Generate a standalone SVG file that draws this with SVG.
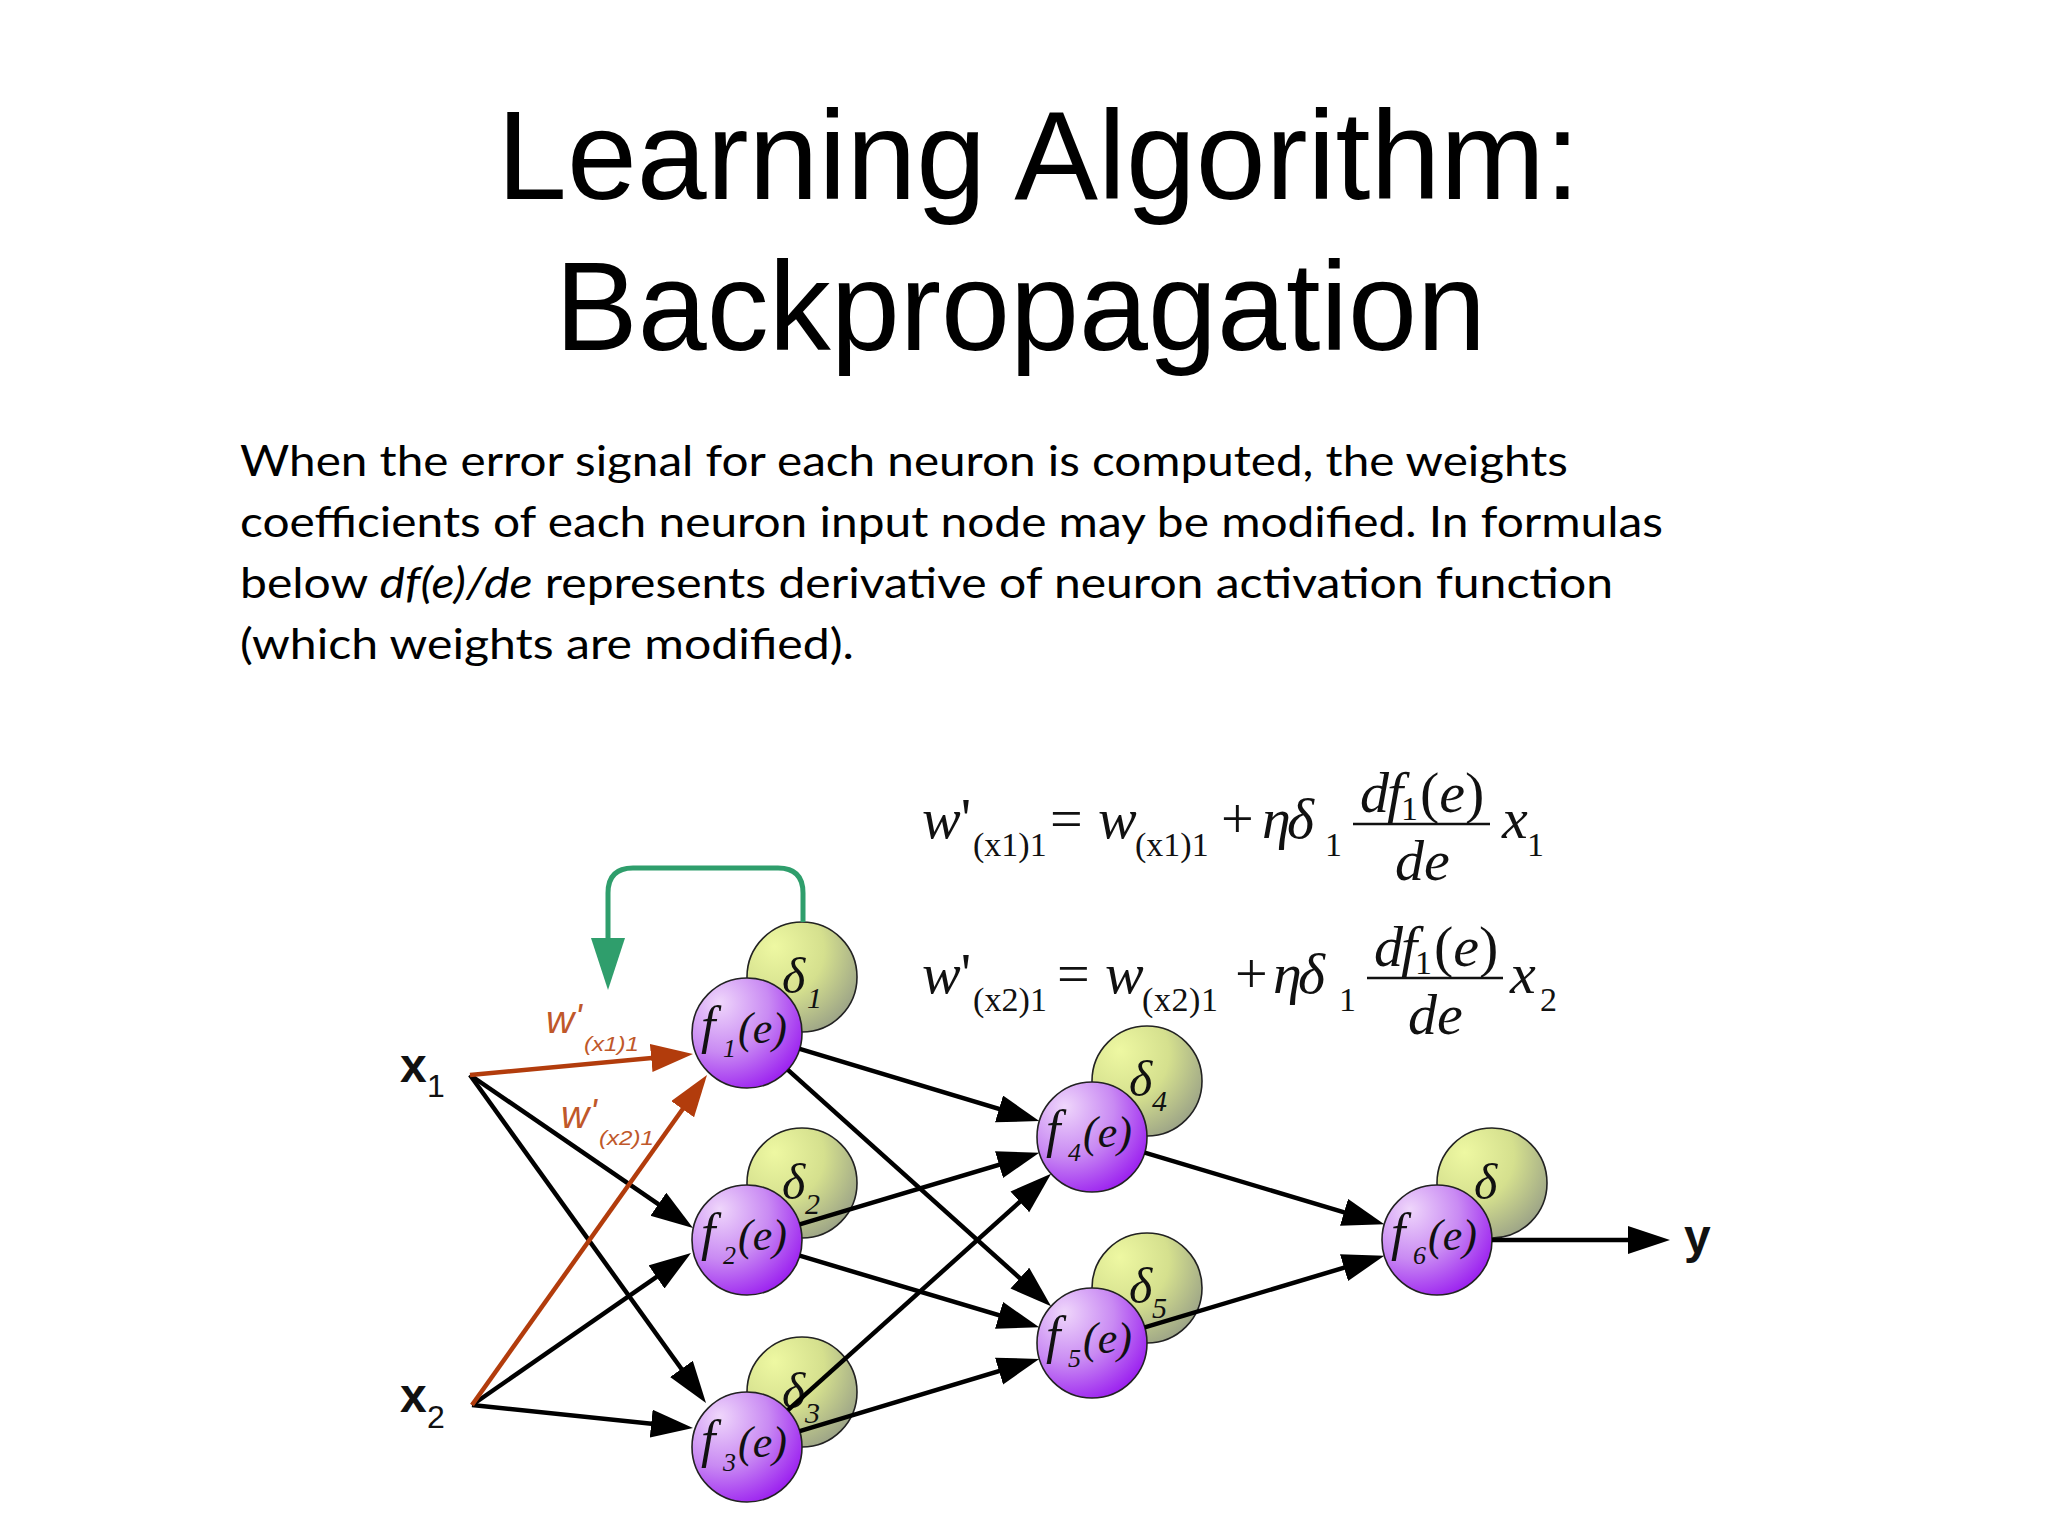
<svg xmlns="http://www.w3.org/2000/svg" width="2048" height="1536" viewBox="0 0 2048 1536">
<defs>
<style>
.title{font-family:"Liberation Sans",Arial,sans-serif;font-size:127px;fill:#000}
.body{font-family:Lato,"Open Sans",sans-serif;font-size:43px;fill:#000}
.eq{font-family:"Liberation Serif","Times New Roman",serif;font-size:58px;fill:#111}
.eqs{font-family:"Liberation Serif","Times New Roman",serif;font-size:34px;fill:#111}
.it{font-style:italic}
.fn{font-family:"Liberation Serif","Times New Roman",serif;font-style:italic;font-size:44px;fill:#111}
.ff{font-size:52px}
.fs{font-size:26px}
.dl{font-family:"Liberation Serif","Times New Roman",serif;font-style:italic;font-size:50px;fill:#111}
.ds{font-size:30px}
.inp{font-family:"Liberation Sans",Arial,sans-serif;font-weight:bold;font-size:48px;fill:#111}
.inps{font-family:"Liberation Sans",Arial,sans-serif;font-size:32px;fill:#111}
.wl{font-family:"Liberation Sans",Arial,sans-serif;font-style:italic;fill:#c0582a}
.fc{fill:url(#pg);stroke:#222;stroke-width:1.6}
.dc{fill:url(#gg);stroke:#222;stroke-width:1.6}
.ln{stroke:#000;stroke-width:4.5;fill:none;marker-end:url(#ah)}
.or{stroke:#b23c0c;stroke-width:4.5;fill:none;marker-end:url(#ao)}
</style>
<radialGradient id="pg" cx="0.3" cy="0.28" r="0.85" fx="0.25" fy="0.22">
<stop offset="0" stop-color="#efd6fb"/>
<stop offset="0.5" stop-color="#c98af3"/>
<stop offset="1" stop-color="#9512ef"/>
</radialGradient>
<radialGradient id="gg" cx="0.3" cy="0.28" r="0.85" fx="0.25" fy="0.22">
<stop offset="0" stop-color="#eef8a2"/>
<stop offset="0.5" stop-color="#d5e08e"/>
<stop offset="1" stop-color="#959c86"/>
</radialGradient>
<marker id="ah" markerUnits="userSpaceOnUse" markerWidth="44" markerHeight="30" refX="22" refY="14" orient="auto">
<path d="M0,0 L42,14 L0,28 z" fill="#000"/>
</marker>
<marker id="ao" markerUnits="userSpaceOnUse" markerWidth="44" markerHeight="30" refX="22" refY="14" orient="auto">
<path d="M0,0 L42,14 L0,28 z" fill="#b23c0c"/>
</marker>
<marker id="ag" markerUnits="userSpaceOnUse" markerWidth="54" markerHeight="36" refX="22" refY="17" orient="auto">
<path d="M0,0 L52,17 L0,34 z" fill="#2f9e6c"/>
</marker>
</defs>
<rect width="2048" height="1536" fill="#fff"/>

<g id="title">
<text class="title" x="497" y="199" textLength="1083" lengthAdjust="spacingAndGlyphs">Learning Algorithm:</text>
<text class="title" x="555" y="350" textLength="931" lengthAdjust="spacingAndGlyphs">Backpropagation</text>
</g>

<g id="body">
<text class="body" x="240" y="476" textLength="1328" lengthAdjust="spacingAndGlyphs">When the error signal for each neuron is computed, the weights</text>
<text class="body" x="240" y="537" textLength="1423" lengthAdjust="spacingAndGlyphs">coefficients of each neuron input node may be modified. In formulas</text>
<text class="body" x="240" y="598" textLength="1373" lengthAdjust="spacingAndGlyphs">below <tspan font-style="italic">df(e)/de</tspan> represents derivative of neuron activation function</text>
<text class="body" x="240" y="659" textLength="614" lengthAdjust="spacingAndGlyphs">(which weights are modified).</text>
</g>

<g id="equation1">
<text class="eq it" x="922" y="838">w<tspan font-style="normal">'</tspan></text>
<text class="eqs" x="973" y="856">(x1)1</text>
<text class="eq" x="1050" y="838">=</text>
<text class="eq it" x="1098" y="838">w</text>
<text class="eqs" x="1135" y="856">(x1)1</text>
<text class="eq" x="1221" y="838">+</text>
<text class="eq it" x="1262" y="838">η</text>
<text class="eq it" x="1287" y="838">δ</text>
<text class="eqs" x="1325" y="856">1</text>
<text class="eq it" x="1360" y="812">d</text>
<text class="eq it" x="1387" y="812">f</text>
<text class="eqs" x="1401" y="820">1</text>
<text class="eq" x="1420" y="812">(<tspan font-style="italic">e</tspan>)</text>
<line x1="1353" y1="824" x2="1490" y2="824" stroke="#111" stroke-width="2.5"/>
<text class="eq it" x="1395" y="880">de</text>
<text class="eq it" x="1502" y="838">x</text>
<text class="eqs" x="1527" y="856">1</text>
</g>

<g id="equation2">
<text class="eq it" x="922" y="993">w<tspan font-style="normal">'</tspan></text>
<text class="eqs" x="973" y="1011" textLength="74" lengthAdjust="spacing">(x2)1</text>
<text class="eq" x="1057" y="993">=</text>
<text class="eq it" x="1105" y="993">w</text>
<text class="eqs" x="1142" y="1011" textLength="76" lengthAdjust="spacing">(x2)1</text>
<text class="eq" x="1235" y="993">+</text>
<text class="eq it" x="1273" y="993">η</text>
<text class="eq it" x="1298" y="993">δ</text>
<text class="eqs" x="1339" y="1011">1</text>
<text class="eq it" x="1374" y="966">d</text>
<text class="eq it" x="1401" y="966">f</text>
<text class="eqs" x="1415" y="974">1</text>
<text class="eq" x="1434" y="966">(<tspan font-style="italic">e</tspan>)</text>
<line x1="1367" y1="978" x2="1503" y2="978" stroke="#111" stroke-width="2.5"/>
<text class="eq it" x="1408" y="1034">de</text>
<text class="eq it" x="1510" y="993">x</text>
<text class="eqs" x="1540" y="1011">2</text>
</g>

<g id="delta1"><circle class="dc" cx="802" cy="977" r="55"/><text class="dl" x="782" y="993">δ<tspan class="ds" x="807" y="1008">1</tspan></text></g>
<g id="delta2"><circle class="dc" cx="802" cy="1183" r="55"/><text class="dl" x="782" y="1199">δ<tspan class="ds" x="805" y="1214">2</tspan></text></g>
<g id="delta3"><circle class="dc" cx="802" cy="1392" r="55"/><text class="dl" x="782" y="1408">δ<tspan class="ds" x="805" y="1423">3</tspan></text></g>
<g id="delta4"><circle class="dc" cx="1147" cy="1081" r="55"/><text class="dl" x="1129" y="1096">δ<tspan class="ds" x="1152" y="1111">4</tspan></text></g>
<g id="delta5"><circle class="dc" cx="1147" cy="1288" r="55"/><text class="dl" x="1129" y="1303">δ<tspan class="ds" x="1152" y="1318">5</tspan></text></g>
<g id="delta6"><circle class="dc" cx="1492" cy="1183" r="55"/><text class="dl" x="1474" y="1199">δ</text></g>

<g id="f1"><circle class="fc" cx="747" cy="1033" r="55"/><text class="fn" x="701" y="1043"><tspan class="ff">f</tspan><tspan class="fs" x="723" y="1057">1</tspan><tspan x="738" y="1043">(e)</tspan></text></g>
<g id="f2"><circle class="fc" cx="747" cy="1240" r="55"/><text class="fn" x="701" y="1250"><tspan class="ff">f</tspan><tspan class="fs" x="723" y="1264">2</tspan><tspan x="738" y="1250">(e)</tspan></text></g>
<g id="f3"><circle class="fc" cx="747" cy="1447" r="55"/><text class="fn" x="701" y="1457"><tspan class="ff">f</tspan><tspan class="fs" x="723" y="1471">3</tspan><tspan x="738" y="1457">(e)</tspan></text></g>
<g id="f4"><circle class="fc" cx="1092" cy="1137" r="55"/><text class="fn" x="1046" y="1147"><tspan class="ff">f</tspan><tspan class="fs" x="1068" y="1161">4</tspan><tspan x="1083" y="1147">(e)</tspan></text></g>
<g id="f5"><circle class="fc" cx="1092" cy="1343" r="55"/><text class="fn" x="1046" y="1353"><tspan class="ff">f</tspan><tspan class="fs" x="1068" y="1367">5</tspan><tspan x="1083" y="1353">(e)</tspan></text></g>
<g id="f6"><circle class="fc" cx="1437" cy="1240" r="55"/><text class="fn" x="1391" y="1250"><tspan class="ff">f</tspan><tspan class="fs" x="1413" y="1264">6</tspan><tspan x="1428" y="1250">(e)</tspan></text></g>

<g id="x1"><text class="inp" x="400" y="1082">x</text><text class="inps" x="427" y="1097">1</text></g>
<g id="x2"><text class="inp" x="400" y="1412">x</text><text class="inps" x="427" y="1428">2</text></g>
<g id="y"><text class="inp" x="1684" y="1253">y</text></g>

<g id="connectors">
<line class="ln" x1="470" y1="1075" x2="676.5" y2="1216.7"/>
<line class="ln" x1="470" y1="1075" x2="694.3" y2="1386.8"/>
<line class="ln" x1="472" y1="1405" x2="674.6" y2="1264.4"/>
<line class="ln" x1="472" y1="1405" x2="673.1" y2="1425.9"/>
<line class="ln" x1="799.7" y1="1048.9" x2="1020.1" y2="1115.3"/>
<line class="ln" x1="787.9" y1="1069.8" x2="1036.2" y2="1292.8"/>
<line class="ln" x1="799.7" y1="1224.3" x2="1020.1" y2="1158.4"/>
<line class="ln" x1="799.7" y1="1255.7" x2="1020.1" y2="1321.6"/>
<line class="ln" x1="787.9" y1="1410.2" x2="1036.2" y2="1187.2"/>
<line class="ln" x1="799.7" y1="1431.1" x2="1020.1" y2="1364.7"/>
<line class="ln" x1="1144.7" y1="1152.7" x2="1365.1" y2="1218.6"/>
<line class="ln" x1="1144.7" y1="1327.3" x2="1365.1" y2="1261.4"/>
<line class="ln" x1="1492" y1="1240" x2="1650" y2="1240"/>
<line class="or" x1="470" y1="1075" x2="673.1" y2="1055.9"/>
<line class="or" x1="472" y1="1405" x2="695.4" y2="1091.3"/>
<path d="M803,922 V893 Q803,868 778,868 H633 Q608,868 608,893 V960" stroke="#2f9e6c" stroke-width="5" fill="none" marker-end="url(#ag)"/>
</g>

<g id="weight-labels">
<text class="wl" x="546" y="1033" font-size="39">w</text>
<text class="wl" x="575" y="1030" font-size="36">'</text>
<text class="wl" x="584" y="1051" font-size="21" textLength="55" lengthAdjust="spacingAndGlyphs">(x1)1</text>
<text class="wl" x="561" y="1128" font-size="39">w</text>
<text class="wl" x="590" y="1125" font-size="36">'</text>
<text class="wl" x="599" y="1145" font-size="21" textLength="55" lengthAdjust="spacingAndGlyphs">(x2)1</text>
</g>
</svg>
